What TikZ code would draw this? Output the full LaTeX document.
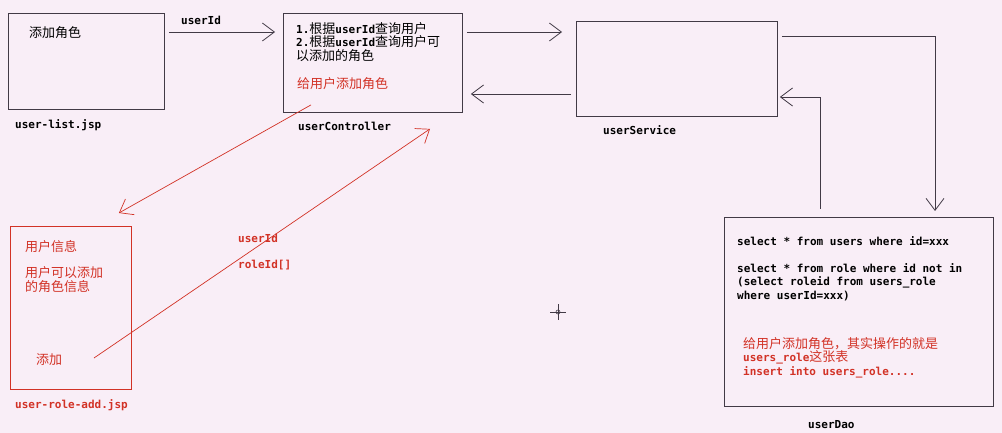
\documentclass[tikz,border=0pt]{standalone}
\usepackage{fontspec}
\setmonofont{DejaVu Sans Mono}
\newfontfamily\cjk{Noto Sans CJK SC}
\usetikzlibrary{arrows.meta,positioning,calc}
\definecolor{bgpink}{RGB}{249,238,247}
\definecolor{inkline}{RGB}{66,58,70}
\definecolor{redink}{RGB}{210,50,38}
\newcommand{\zh}[1]{{\cjk\mdseries\fontsize{13}{13.5}\selectfont #1}}

\begin{document}
\begin{tikzpicture}[x=1pt, y=-1pt,
  box/.style={draw=inkline, line width=0.9pt, inner sep=0pt},
  redbox/.style={draw=redink, line width=0.9pt, inner sep=0pt},
  lbl/.style={font=\ttfamily\bfseries\fontsize{11}{13.5}\selectfont, inner sep=0pt, anchor=west},
  note/.style={font=\cjk\fontsize{13}{14}\selectfont, inner sep=0pt, anchor=west},
  arr/.style={draw=inkline, line width=0.8pt, -{Straight Barb[length=12pt, width=18pt]}},
  redarr/.style={draw=redink, line width=0.7pt, -{Straight Barb[length=12pt, width=18pt]}}
]
\fill[bgpink] (0,0) rectangle (1002,433);
\useasboundingbox (0,0) rectangle (1002,433);

% boxes
\node[box, minimum width=156, minimum height=96, anchor=north west] (list) at (8,13) {};
\node[box, minimum width=179, minimum height=99, anchor=north west] (ctrl) at (283,13) {};
\node[box, minimum width=201, minimum height=95, anchor=north west] (svc) at (576,21) {};
\node[box, minimum width=269, minimum height=189, anchor=north west] (dao) at (724,217) {};
\node[redbox, minimum width=121, minimum height=163, anchor=north west] (add) at (10,226) {};

% texts
\node[note] (listtxt) at (29,33) {添加角色};
\node[lbl] (listname) at (15,125) {user-list.jsp};
\node[lbl] (uid) at (181,20) {userId};
\node[lbl, anchor=north west, align=left] (ctrltxt) at (296,22)
  {1.\zh{根据}userId\zh{查询用户}\\2.\zh{根据}userId\zh{查询用户可}\\\zh{以添加的角色}};
\node[note, text=redink] (ctrladd) at (297,84) {给用户添加角色};
\node[lbl] (ctrlname) at (298,126) {userController};
\node[lbl] (svcname) at (603,130) {userService};

\node[lbl, anchor=north west, align=left] (sql) at (737,236)
  {select * from users where id=xxx\\[13.5pt]
   select * from role where id not in\\
   (select roleid from users\_role\\
   where userId=xxx)};
\node[lbl, anchor=north west, align=left, text=redink] (daoadd) at (743,337)
  {\zh{给用户添加角色，其实操作的就是}\\users\_role\zh{这张表}\\insert into users\_role....};
\node[lbl] (daoname) at (808,425) {userDao};

\node[note, text=redink] (info) at (25,247) {用户信息};
\node[note, text=redink, align=left, anchor=north west] (roleinfo) at (25,266) {用户可以添加\\的角色信息};
\node[note, text=redink] (addbtn) at (36,360) {添加};
\node[lbl, text=redink] (addname) at (15,405) {user-role-add.jsp};
\node[lbl, text=redink] (puid) at (238,238) {userId};
\node[lbl, text=redink] (prid) at (238,265) {roleId[]};

% connectors
\draw[arr] ($(list.north east)+(4,19)$) -- ($(ctrl.north west)+(-8,19)$);
\draw[arr] ($(ctrl.north east)+(4,19)$) -- ($(svc.north west)+(-14,11)$);
\draw[arr] ($(svc.north west)+(-5,73)$) -- ($(ctrl.north east)+(8,81)$);
\draw[arr] ($(svc.north east)+(4,15)$) -| ($(dao.north west)+(211,-6)$);
\draw[arr] ($(dao.north west)+(96,-8)$) |- ($(svc.north east)+(2,76)$);
\draw[redarr] ($(ctrl.south west)+(28,-8)$) -- ($(add.north east)+(-13,-13)$);
\draw[redarr] ($(add.north west)+(84,132)$) -- ($(ctrl.south west)+(147,16)$);

% cursor
\draw[inkline, line width=0.6pt] (550,312) -- (566,312) (558,304) -- (558,320);
\draw[inkline, line width=0.6pt] (558,312) circle (2);
\end{tikzpicture}
\end{document}
